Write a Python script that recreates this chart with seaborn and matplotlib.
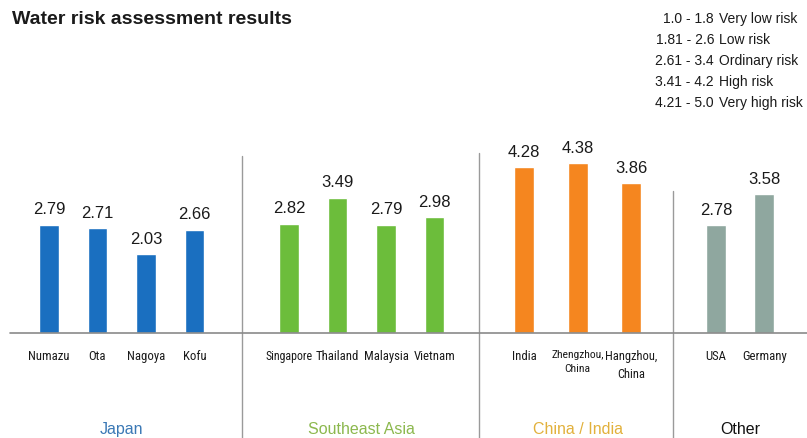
import numpy as np
import pandas as pd
import matplotlib
matplotlib.use("Agg")
import matplotlib.pyplot as plt
import seaborn as sns

# ---- data -------------------------------------------------------------
groups = ["Japan", "Southeast Asia", "China / India", "Other"]
sites_japan = ["Numazu", "Ota", "Nagoya", "Kofu"]
sites_sea = ["Singapore", "Thailand", "Malaysia", "Vietnam"]
sites_china = ["India", "Zhengzhou,\nChina", "Hangzhou,\nChina"]
sites_other = ["USA", "Germany"]
scores_japan = [2.79, 2.71, 2.03, 2.66]
scores_sea = [2.82, 3.49, 2.79, 2.98]
scores_china = [4.28, 4.38, 3.86]
scores_other = [2.78, 3.58]

risk_ranges = ["1.0 - 1.8", "1.81 - 2.6", "2.61 - 3.4", "3.41 - 4.2", "4.21 - 5.0"]
risk_levels = ["Very low risk", "Low risk", "Ordinary risk", "High risk", "Very high risk"]

# ---- styling / layout ---------------------------------------------------
bar_colors = ["#1a6fc0", "#6cbd3b", "#f5861f", "#8fa79f"]
group_text_colors = ["#3a78b5", "#8cb84e", "#e2b13c", "#111111"]
group_gaps = [1.0, 1.95, 1.85, 1.75]     # distance from previous bar to a group's first bar
group_steps = [1.0, 1.0, 1.1, 1.0]       # spacing of bars inside each group
divider_tops = [4.56, 4.64, 3.66]
label_px_per_step = 47.5                 # widest site name allowed per unit of spacing
label_size = 9.2

sns.set_theme(style="white")
plt.rcParams["font.family"] = ["Liberation Sans", "DejaVu Sans"]
narrow = ["Roboto Condensed", "Archivo Narrow", "PT Sans Narrow",
          "Pragati Narrow", "Liberation Sans Narrow", "Open Sans Condensed",
          "DejaVu Sans"]

group_sites = [sites_japan, sites_sea, sites_china, sites_other]
group_scores = [scores_japan, scores_sea, scores_china, scores_other]

rows = []
pos = -1.0
for g, sites, scores, gap, step in zip(groups, group_sites, group_scores,
                                       group_gaps, group_steps):
    for i, (s, v) in enumerate(zip(sites, scores)):
        pos = pos + (gap if i == 0 else step)
        rows.append({"group": g, "site": s, "score": v, "x": round(pos, 3),
                     "step": step})
df = pd.DataFrame(rows)

fig = plt.figure(figsize=(8.07, 4.39), dpi=100)
ax = fig.add_axes([0, 0, 1, 1])

sns.barplot(data=df, x="x", y="score", hue="group", hue_order=groups,
            palette=bar_colors, dodge=False, native_scale=True,
            width=0.41, saturation=1, legend=False, ax=ax)

ax.set_xlim(-1.01, 15.63)
ax.set_ylim(-2.706, 8.608)
ax.set_axis_off()

# baseline
ax.axhline(0, xmin=10 / 807, xmax=1, color="#8a8a8a", lw=1.2, zorder=3)

renderer = fig.canvas.get_renderer()

# value labels and site names
for _, r in df.iterrows():
    ax.annotate(f"{r['score']:.2f}", (r["x"], r["score"]), xytext=(0, 6),
                textcoords="offset points", ha="center", va="bottom",
                fontsize=12, color="#1a1a1a")
    t = ax.text(r["x"], -0.42, r["site"], ha="center", va="top",
                fontsize=label_size, family=narrow, color="#1a1a1a",
                linespacing=1.45)
    w = t.get_window_extent(renderer).width
    limit = label_px_per_step * r["step"]
    if w > limit:
        t.set_fontsize(label_size * limit / w)

# group captions and separators
centers = df.groupby("group", sort=False)["x"].agg(["min", "max"])
for g, col in zip(groups, group_text_colors):
    c = (centers.loc[g, "min"] + centers.loc[g, "max"]) / 2
    ax.text(c, -2.47, g, ha="center", va="center", fontsize=11.5, color=col)
for (g1, g2), top in zip(zip(groups[:-1], groups[1:]), divider_tops):
    xm = (centers.loc[g1, "max"] + centers.loc[g2, "min"]) / 2
    ax.plot([xm, xm], [-2.706, top], color="#9a9a9a", lw=1.0, zorder=2)

# title
fig.text(12 / 807, 1 - 20 / 439, "Water risk assessment results",
         ha="left", va="center", fontsize=14, fontweight="bold", color="#1a1a1a")

# risk scale key
for i, (rng, lvl) in enumerate(zip(risk_ranges, risk_levels)):
    y = 1 - (19 + 21 * i) / 439
    fig.text(714 / 807, y, rng, ha="right", va="center", fontsize=10,
             color="#1a1a1a")
    fig.text(719 / 807, y, lvl, ha="left", va="center", fontsize=10,
             color="#1a1a1a")

fig.savefig("out.png", dpi=100, facecolor="white")
